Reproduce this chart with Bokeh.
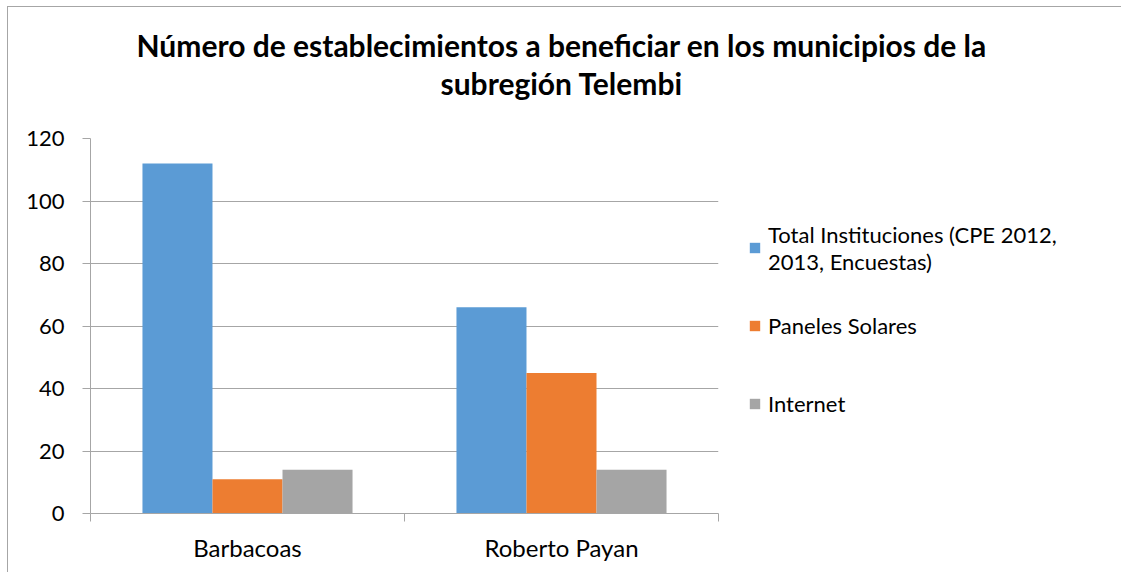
from bokeh.plotting import figure
from bokeh.models import (Range1d, FixedTicker, LinearAxis, Legend, LegendItem, Title,
                          ColumnDataSource)
from bokeh.embed import file_html
from bokeh.resources import INLINE

municipios = ["Barbacoas", "Roberto Payan"]
total_instituciones = [112, 66]
paneles_solares = [11, 45]
internet = [14, 14]
series_names = ["Total Instituciones (CPE 2012,\n2013, Encuestas)", "Paneles Solares", "Internet"]
colors = ["#5B9BD5", "#ED7D31", "#A5A5A5"]
y_ticks = [0, 20, 40, 60, 80, 100, 120]
title_lines = ["Número de establecimientos a beneficiar en los municipios de la", "subregión Telembi"]

FONT = "Lato"
GRID = "#A6A6A6"

centers = [i + 0.5 for i in range(len(municipios))]
bw = 0.223
offsets = [-bw, 0, bw]
series = [total_instituciones, paneles_solares, internet]

p = figure(frame_width=628, frame_height=375, x_range=Range1d(0, len(municipios)),
           y_range=Range1d(0, 120), output_backend="svg", toolbar_location=None,
           x_axis_location=None, y_axis_location=None,
           min_border_left=82, min_border_right=394, min_border_top=131, min_border_bottom=59,
           styles={"margin-left": "7px", "margin-top": "6px",
                   "border-left": "1px solid #A6A6A6", "border-top": "1px solid #A6A6A6"})
p.outline_line_color = None
p.background_fill_color = "white"
p.border_fill_color = "white"

renderers = []
for vals, off, color in zip(series, offsets, colors):
    src = ColumnDataSource(dict(x=[c + off for c in centers], top=vals, m=municipios))
    r = p.vbar(x="x", top="top", width=bw, source=src, fill_color=color, line_color=None)
    renderers.append(r)

# y axis
yax = LinearAxis(ticker=FixedTicker(ticks=y_ticks))
yax.axis_line_color = GRID
yax.major_tick_line_color = GRID
yax.major_tick_out = 8
yax.major_tick_in = 0
yax.minor_tick_line_color = None
yax.major_label_text_font = FONT
yax.major_label_text_font_size = "22px"
yax.major_label_text_color = "black"
yax.major_label_standoff = 18
p.add_layout(yax, "left")

# x boundary ticks axis
bounds = list(range(len(municipios) + 1))
xt = LinearAxis(ticker=FixedTicker(ticks=bounds))
xt.axis_line_color = GRID
xt.major_tick_line_color = GRID
xt.major_tick_out = 8
xt.major_tick_in = 0
xt.minor_tick_line_color = None
xt.major_label_overrides = {b: "" for b in bounds}
xt.major_label_text_font_size = "1px"
xt.major_label_standoff = 0
p.add_layout(xt, "below")

xc = LinearAxis(ticker=FixedTicker(ticks=centers))
xc.major_label_overrides = {c: m for c, m in zip(centers, municipios)}
xc.axis_line_color = None
xc.major_tick_line_color = None
xc.minor_tick_line_color = None
xc.major_tick_out = 0
xc.major_tick_in = 0
xc.major_label_text_font = FONT
xc.major_label_text_font_size = "24px"
xc.major_label_text_color = "black"
xc.major_label_standoff = 11
p.add_layout(xc, "below")

p.ygrid.ticker = FixedTicker(ticks=y_ticks)
p.ygrid.grid_line_color = GRID
p.xgrid.grid_line_color = None

lg = Legend(items=[LegendItem(label=n, renderers=[r]) for n, r in zip(series_names, renderers)],
            location="center_left")
lg.glyph_width = 13
lg.glyph_height = 13
lg.label_standoff = 7
lg.label_text_font = FONT
lg.label_text_font_size = "22px"
lg.label_text_color = "black"
lg.label_height = 56
lg.padding = 0
lg.margin = 30
lg.spacing = 22
lg.border_line_color = None
lg.background_fill_alpha = 0
p.add_layout(lg, "right")

# title: spacer first (closest to frame), then second line, then first line
spacer = Title(text=" ", text_font_size="1px", standoff=35)
t2 = Title(text=title_lines[1], align="left", offset=350, text_font=FONT,
           text_font_style="bold", text_font_size="30px", text_color="black", standoff=0)
t1 = Title(text=title_lines[0], align="left", offset=46, text_font=FONT,
           text_font_style="bold", text_font_size="30px", text_color="black", standoff=0)
p.add_layout(spacer, "above")
p.add_layout(t2, "above")
p.add_layout(t1, "above")

open("out.html", "w").write(file_html(p, INLINE))
